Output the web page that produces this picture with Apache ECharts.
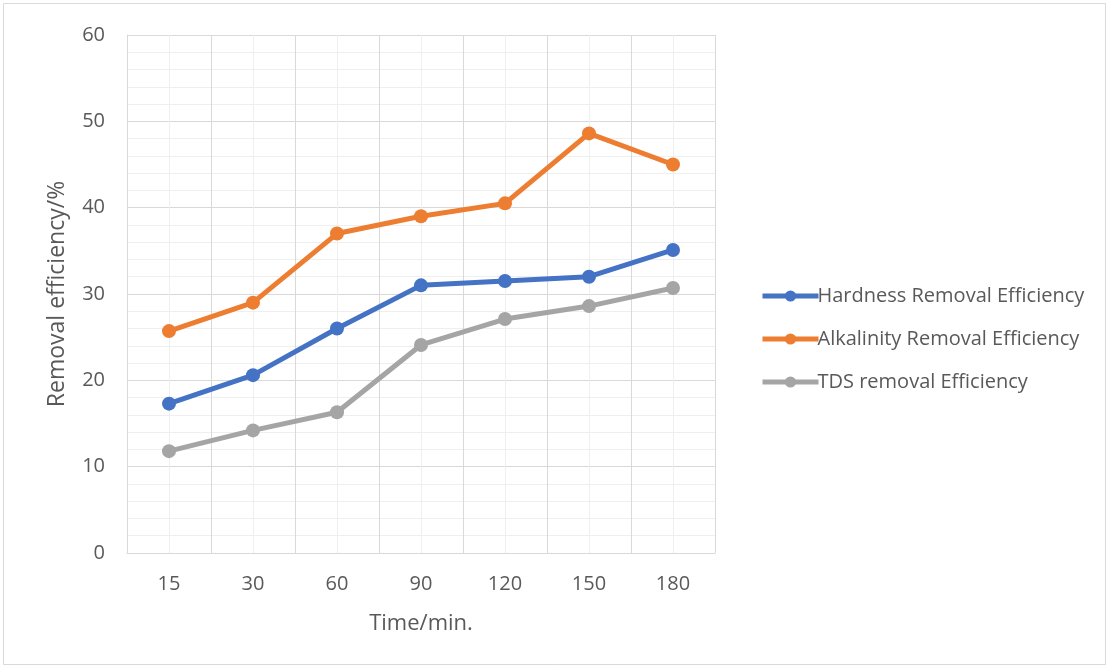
<!DOCTYPE html>
<html><head><meta charset="utf-8">
<script src="https://cdn.jsdelivr.net/npm/echarts@6/dist/echarts.min.js"></script>
<style>html,body{margin:0;padding:0;background:#fff}#c{width:1108px;height:668px}</style>
</head><body><div id="c"></div>
<script>
const categories = ['15','30','60','90','120','150','180'];
const hardness = [17.3, 20.6, 26.0, 31.0, 31.5, 32.0, 35.1];
const alkalinity = [25.7, 29.0, 37.0, 39.0, 40.5, 48.6, 45.0];
const tds = [11.8, 14.2, 16.3, 24.1, 27.1, 28.6, 30.7];
const seriesNames = ['Hardness Removal Efficiency','Alkalinity Removal Efficiency','TDS removal Efficiency'];
const colors = ['#4472C4','#ED7D31','#A5A5A5'];
const font = 'Open Sans';

const chart = echarts.init(document.getElementById('c'));
function mk(name, data, color){
  return {name, type:'line', data, xAxisIndex:1, yAxisIndex:0,
    symbol:'circle', symbolSize:14, color,
    lineStyle:{width:5, color}, itemStyle:{color}, z:5};
}
chart.setOption({
  animation:false,
  graphic:[{type:'rect', shape:{x:3.5,y:3.5,width:1102,height:661}, style:{fill:'none', stroke:'#d9d9d9', lineWidth:1}, z:-1}],
  grid:{left:127, right:393, top:35, bottom:115},
  legend:{orient:'vertical', left:755, top:281, itemGap:23, itemWidth:56, itemHeight:14,
    lineStyle:{width:5},
    data:seriesNames, textStyle:{fontFamily:font, fontSize:20, color:'#595959', padding:[0,0,0,-6]}},
  xAxis:[
    {type:'value', min:0, max:14, interval:1, show:true, axisLine:{show:false}, axisTick:{show:false}, axisLabel:{show:false},
     splitLine:{show:true, lineStyle:{color:'#efefef', width:1}}, z:0},
    {type:'category', data:categories, boundaryGap:true, position:'bottom',
     axisLine:{show:true, lineStyle:{color:'#d9d9d9', width:1}}, axisTick:{show:false},
     axisLabel:{fontFamily:font, fontSize:20, color:'#595959', margin:21},
     splitLine:{show:true, lineStyle:{color:'#d9d9d9', width:1}},
     name:'Time/min.', nameLocation:'middle', nameGap:60,
     nameTextStyle:{fontFamily:font, fontSize:22, color:'#595959'}, z:1}
  ],
  yAxis:{type:'value', min:0, max:60, interval:10,
    axisLine:{show:true, lineStyle:{color:'#d9d9d9'}}, axisTick:{show:false},
    axisLabel:{fontFamily:font, fontSize:20, color:'#595959', margin:22},
    splitLine:{show:true, lineStyle:{color:'#d9d9d9', width:1}},
    minorTick:{show:false, splitNumber:5},
    minorSplitLine:{show:true, lineStyle:{color:'#efefef', width:1}},
    name:'Removal efficiency/%', nameLocation:'middle', nameGap:58, nameRotate:90,
    nameTextStyle:{fontFamily:font, fontSize:23, color:'#595959'}},
  series:[mk(seriesNames[0], hardness, colors[0]), mk(seriesNames[1], alkalinity, colors[1]), mk(seriesNames[2], tds, colors[2])]
});
</script></body></html>
